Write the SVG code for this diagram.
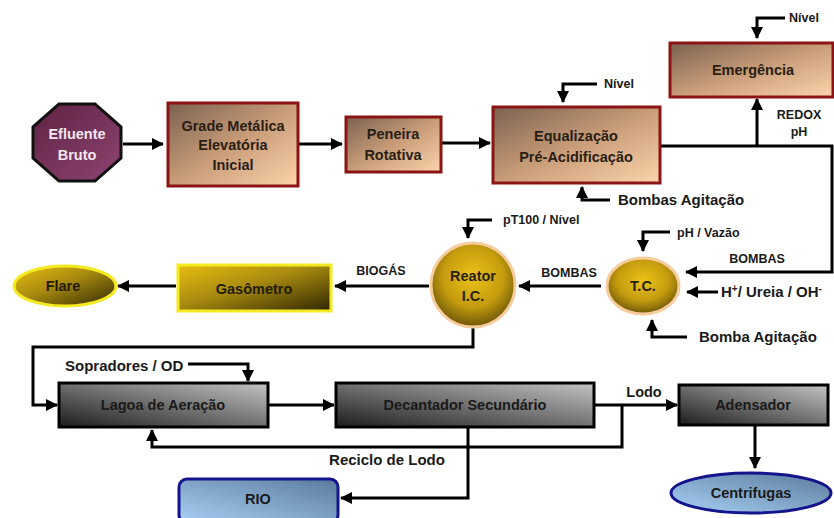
<svg xmlns="http://www.w3.org/2000/svg" width="834" height="518" viewBox="0 0 834 518">
<defs>
<linearGradient id="gBrown" x1="0" y1="0" x2="1" y2="1">
<stop offset="0" stop-color="#7a6150"/><stop offset="0.5" stop-color="#c89c78"/><stop offset="1" stop-color="#fdd4ac"/>
</linearGradient>
<linearGradient id="gPurple" x1="0" y1="0" x2="1" y2="1">
<stop offset="0" stop-color="#5e2243"/><stop offset="1" stop-color="#8e4570"/>
</linearGradient>
<linearGradient id="gGold" x1="0" y1="0" x2="1" y2="1">
<stop offset="0" stop-color="#e8be10"/><stop offset="0.45" stop-color="#a88a10"/><stop offset="1" stop-color="#2e2600"/>
</linearGradient>
<radialGradient id="gBall" cx="0.5" cy="0.4" r="0.6">
<stop offset="0" stop-color="#ecc218"/><stop offset="0.6" stop-color="#c49c0e"/><stop offset="1" stop-color="#6e5608"/>
</radialGradient>
<linearGradient id="gGray" x1="0" y1="1" x2="1" y2="0">
<stop offset="0" stop-color="#1c1c1c"/><stop offset="0.5" stop-color="#707070"/><stop offset="1" stop-color="#c4c4c4"/>
</linearGradient>
<linearGradient id="gBlue" x1="0" y1="1" x2="1" y2="0">
<stop offset="0" stop-color="#a8d0f5"/><stop offset="1" stop-color="#5a7a9c"/>
</linearGradient>
<marker id="ah" markerWidth="12" markerHeight="12" refX="11" refY="6" orient="auto" markerUnits="userSpaceOnUse">
<path d="M0,0 L12,6 L0,12 Z" fill="#000"/>
</marker>
<style>
.t{font-family:"Liberation Sans",Arial,sans-serif;font-weight:bold;text-anchor:middle;}
.n{font-size:14.5px;fill:#2a1e14;}
.s{font-size:12.5px;fill:#1a1a1a;}
.m{font-size:15px;fill:#1a1a1a;}
.l{text-anchor:start;}
.ln{fill:none;stroke:#000;stroke-width:3;}
.br{fill:url(#gBrown);stroke:#8b1414;stroke-width:3;}
.gr{fill:url(#gGray);stroke:#000;stroke-width:3;}
</style>
</defs>

<g id="connectors" class="ln">
<path d="M123,144 H163" marker-end="url(#ah)"/>
<path d="M299,144 H342" marker-end="url(#ah)"/>
<path d="M442,143 H490" marker-end="url(#ah)"/>
<path d="M597,84 H563 V102" marker-end="url(#ah)"/>
<path d="M610,200 H582 V187" marker-end="url(#ah)"/>
<path d="M661,146 H832 V272 H686" marker-end="url(#ah)"/>
<path d="M757,146 V99" marker-end="url(#ah)"/>
<path d="M785,18 H757 V38" marker-end="url(#ah)"/>
<path d="M718,292 H687" marker-end="url(#ah)"/>
<path d="M670,232 H643 V251" marker-end="url(#ah)"/>
<path d="M687,337 H652 V320" marker-end="url(#ah)"/>
<path d="M601,286 H519" marker-end="url(#ah)"/>
<path d="M492,220 H468 V238" marker-end="url(#ah)"/>
<path d="M429,286 H335" marker-end="url(#ah)"/>
<path d="M176,286 H118" marker-end="url(#ah)"/>
<path d="M473,328 V347 H33 V405 H57" marker-end="url(#ah)"/>
<path d="M188,364 H248 V381" marker-end="url(#ah)"/>
<path d="M269,405 H334" marker-end="url(#ah)"/>
<path d="M595,405 H677" marker-end="url(#ah)"/>
<path d="M622,405 V447 H152 V430" marker-end="url(#ah)"/>
<path d="M468,428 V498 H341" marker-end="url(#ah)"/>
<path d="M755,426 V468" marker-end="url(#ah)"/>
</g>

<g id="efluente">
<polygon points="59,104 95,104 121,127 121,158 95,181 59,181 33,158 33,127" fill="url(#gPurple)" stroke="#111" stroke-width="3"/>
<text class="t n" x="77" y="139" style="fill:#f4e6f0">Efluente</text>
<text class="t n" x="77" y="160" style="fill:#f4e6f0">Bruto</text>
</g>

<g id="grade">
<rect class="br" x="168" y="103" width="130" height="83"/>
<text class="t n" x="233" y="131">Grade Metálica</text>
<text class="t n" x="233" y="150">Elevatória</text>
<text class="t n" x="233" y="170">Inicial</text>
</g>

<g id="peneira">
<rect class="br" x="346" y="117" width="95" height="55"/>
<text class="t n" x="393" y="139">Peneira</text>
<text class="t n" x="393" y="160">Rotativa</text>
</g>

<g id="equalizacao">
<rect class="br" x="493" y="107" width="167" height="76"/>
<text class="t n" x="576" y="141">Equalização</text>
<text class="t n" x="576" y="162">Pré-Acidificação</text>
<text class="t s l" x="604" y="88">Nível</text>
<text class="t m l" x="618" y="205">Bombas Agitação</text>
</g>

<g id="emergencia">
<rect class="br" x="670" y="43" width="163" height="54"/>
<text class="t n" x="753" y="75">Emergência</text>
<text class="t s l" x="789" y="22">Nível</text>
<text class="t s" x="799" y="119">REDOX</text>
<text class="t s" x="799" y="136">pH</text>
</g>

<g id="tc">
<ellipse cx="643" cy="286" rx="36" ry="28" fill="url(#gBall)" stroke="#f7cc9c" stroke-width="3"/>
<text class="t n" x="643" y="291">T.C.</text>
<text class="t s l" x="677" y="237">pH / Vazão</text>
<text class="t s" x="757" y="263">BOMBAS</text>
<text class="t m l" x="721" y="297">H<tspan font-size="10" dy="-5">+</tspan><tspan dy="5">/ Ureia / OH</tspan><tspan font-size="10" dy="-5">-</tspan></text>
<text class="t m l" x="699" y="342">Bomba Agitação</text>
<text class="t s" x="569" y="277">BOMBAS</text>
</g>

<g id="reator">
<circle cx="473" cy="285" r="42" fill="url(#gBall)" stroke="#f7cc9c" stroke-width="3"/>
<text class="t n" x="473" y="281">Reator</text>
<text class="t n" x="473" y="301">I.C.</text>
<text class="t s l" x="503" y="224">pT100 / Nível</text>
<text class="t s" x="381" y="275">BIOGÁS</text>
</g>

<g id="gasometro">
<rect x="178" y="265" width="153" height="46" fill="url(#gGold)" stroke="#f5ea20" stroke-width="3"/>
<text class="t n" x="254" y="294" style="fill:#231b00">Gasômetro</text>
</g>

<g id="flare">
<ellipse cx="65" cy="286" rx="51" ry="20" fill="url(#gGold)" stroke="#f5ea20" stroke-width="3"/>
<text class="t n" x="63" y="291" style="fill:#231b00">Flare</text>
</g>

<g id="lagoa">
<rect class="gr" x="59" y="383" width="209" height="44"/>
<text class="t n" x="163" y="410" style="fill:#1a1a1a">Lagoa de Aeração</text>
<text class="t m l" x="65" y="371">Sopradores / OD</text>
</g>

<g id="decantador">
<rect class="gr" x="336" y="383" width="258" height="44"/>
<text class="t n" x="465" y="410" style="fill:#1a1a1a">Decantador Secundário</text>
<text class="t m" x="387" y="465">Reciclo de Lodo</text>
<text class="t n" x="644" y="397" style="fill:#1a1a1a">Lodo</text>
</g>

<g id="adensador">
<rect class="gr" x="679" y="385" width="149" height="40"/>
<text class="t n" x="753" y="410" style="fill:#1a1a1a">Adensador</text>
</g>

<g id="centrifugas">
<ellipse cx="751" cy="493" rx="80" ry="20" fill="url(#gBlue)" stroke="#14148c" stroke-width="3"/>
<text class="t n" x="751" y="498" style="fill:#1a1a1a">Centrifugas</text>
</g>

<g id="rio">
<rect x="179" y="479" width="159" height="44" rx="8" fill="url(#gBlue)" stroke="#14148c" stroke-width="3"/>
<text class="t n" x="258" y="504" style="fill:#1a1a1a">RIO</text>
</g>
</svg>
